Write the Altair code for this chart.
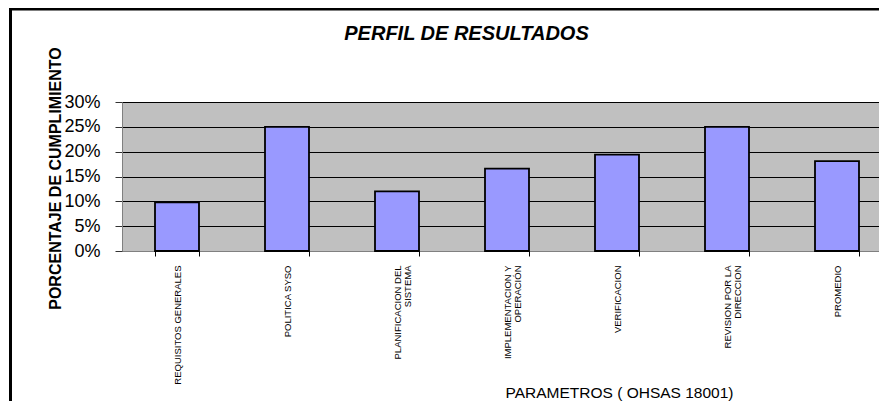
import altair as alt
import pandas as pd

categories = [
    "REQUISITOS GENERALES",
    "POLITICA  SYSO",
    "PLANIFICACION DEL\nSISTEMA",
    "IMPLEMENTACION Y\nOPERACIÓN",
    "VERIFICACION",
    "REVISION POR LA\nDIRECCION",
    "PROMEDIO",
]
values = [0.098, 0.25, 0.12, 0.166, 0.194, 0.25, 0.181]
y_ticks = [0, 0.05, 0.10, 0.15, 0.20, 0.25, 0.30]

W, H = 757, 149
BAND_RANGE = 770
FONT = "Liberation Sans"

df = pd.DataFrame({"cat": categories, "val": values})

bars = alt.Chart(df).mark_bar(
    fill="#9999FF", stroke="black", strokeWidth=1.8
).encode(
    x=alt.X(
        "cat:N",
        sort=categories,
        scale=alt.Scale(paddingInner=0.6, paddingOuter=0.3, range=[0, BAND_RANGE]),
        axis=alt.Axis(
            title="PARAMETROS ( OHSAS 18001)",
            labelAngle=270,
            labelAlign="right",
            labelBaseline="middle",
            labelFont=FONT,
            labelFontSize=9.5,
            labelLineHeight=10,
            labelColor="black",
            labelExpr="split(datum.label, '\\n')",
            labelPadding=9,
            tickBand="extent",
            tickSize=5,
            tickColor="black",
            domainColor="#808080",
            titleFont=FONT,
            titleFontSize=15.5,
            titleFontWeight="normal",
            titleColor="black",
            titleX=497,
            titleY=141,
            titleAlign="center",
            titleBaseline="middle",
        ),
    ),
    y=alt.Y(
        "val:Q",
        scale=alt.Scale(domain=[0, 0.3], nice=False),
        axis=alt.Axis(
            values=y_ticks,
            format=".0%",
            labelFont=FONT,
            labelFontSize=18,
            labelColor="black",
            labelPadding=15,
            tickSize=7,
            tickColor="#333333",
            domainColor="#808080",
            grid=True,
            gridColor="black",
            gridWidth=1,
            title="PORCENTAJE DE CUMPLIMIENTO",
            titleFont=FONT,
            titleFontSize=16,
            titleFontWeight="bold",
            titleColor="black",
            titleX=-67,
            titleY=76,
            titleAngle=270,
            titleAlign="center",
            titleBaseline="middle",
        ),
    ),
)

frame = alt.Data(values=[{"k": 1}])
top_border = alt.Chart(frame).mark_rule(color="black", strokeWidth=3).encode(
    x=alt.value(-113), x2=alt.value(W + 10), y=alt.value(-93)
)
left_border = alt.Chart(frame).mark_rule(color="black", strokeWidth=3).encode(
    x=alt.value(-111.5), y=alt.value(-94.5), y2=alt.value(H + 160)
)

chart = alt.layer(bars, top_border, left_border).properties(
    width=W,
    height=H,
    background="white",
    title=alt.Title(
        "PERFIL DE RESULTADOS",
        font=FONT,
        fontSize=20,
        fontStyle="italic",
        fontWeight="bold",
        color="black",
        anchor="middle",
        frame="group",
        dx=-34,
        offset=-38,
    ),
    autosize=alt.AutoSizeParams(type="none"),
    padding={"left": 114, "top": 94, "right": 0, "bottom": 150},
).configure_view(
    fill="#C0C0C0", stroke="#808080", strokeWidth=1
)

chart.save("out.html", embed_options={"renderer": "svg", "actions": False})
